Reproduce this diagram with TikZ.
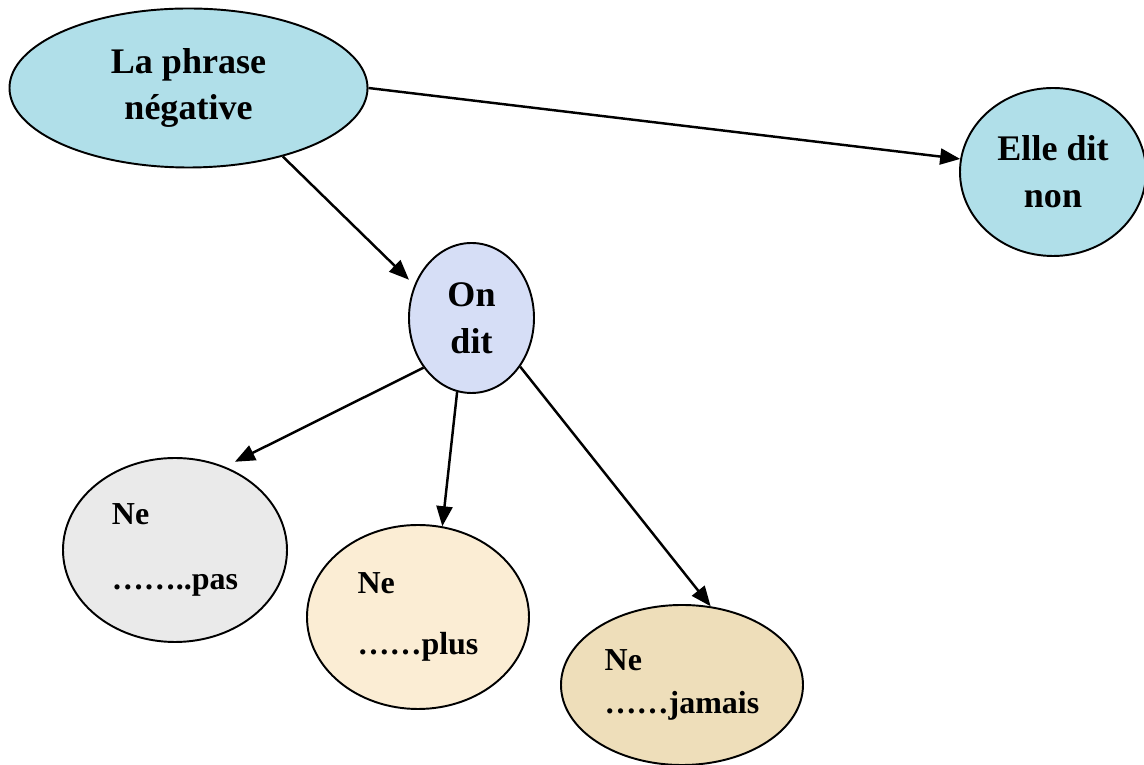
\documentclass[tikz,border=0pt]{standalone}
\usepackage{fontspec}
\setmainfont{Liberation Serif}
\usetikzlibrary{arrows.meta,shapes.geometric}

\definecolor{water}{RGB}{176,223,233}
\definecolor{lavender}{RGB}{214,222,246}
\definecolor{speckle}{RGB}{234,234,234}
\definecolor{cream}{RGB}{251,237,212}
\definecolor{tan}{RGB}{238,222,186}

\begin{document}
\begin{tikzpicture}[every node/.style={ellipse,draw,line width=1.1pt,inner sep=0pt,font=\bfseries},
  big/.style={font=\bfseries\fontsize{20.5}{26.7}\selectfont,align=center},
  small/.style={font=\bfseries\fontsize{18.2}{24.5}\selectfont,align=left},
  link/.style={line width=1.4pt,-{Triangle[length=0.4cm,width=0.32cm]}}]

\useasboundingbox(0,0)rectangle(22.88,15.3);

\node[big,fill=water,minimum width=7.16cm,minimum height=3.18cm](phrase)at(3.77,13.54){La phrase\\négative};
\node[big,fill=water,minimum width=3.72cm,minimum height=3.36cm](elle)at(21.06,11.86){Elle dit\\non};
\node[big,fill=lavender,minimum width=2.5cm,minimum height=3cm](ondit)at(9.43,8.94){On\\dit};

\node[small,fill=speckle,minimum width=4.48cm,minimum height=3.68cm](pas)at(3.5,4.3){Ne\\[12.5pt]……..pas};
\node[small,fill=cream,minimum width=4.44cm,minimum height=3.68cm](plus)at(8.36,2.96){Ne\\[10pt]……plus};
\node[small,fill=tan,minimum width=4.84cm,minimum height=3.2cm](jamais)at(13.64,1.6){Ne\\……jamais};

\draw[link](phrase.east)--(elle.172.5);
\draw[link,shorten >=0.15cm](phrase.-36)--(ondit.150);
\draw[link,shorten >=0.22cm](ondit.226)--(pas.59);
\draw[link](ondit.259)--(plus.75);
\draw[link](ondit.-45)--(jamais.70);

\end{tikzpicture}
\end{document}
